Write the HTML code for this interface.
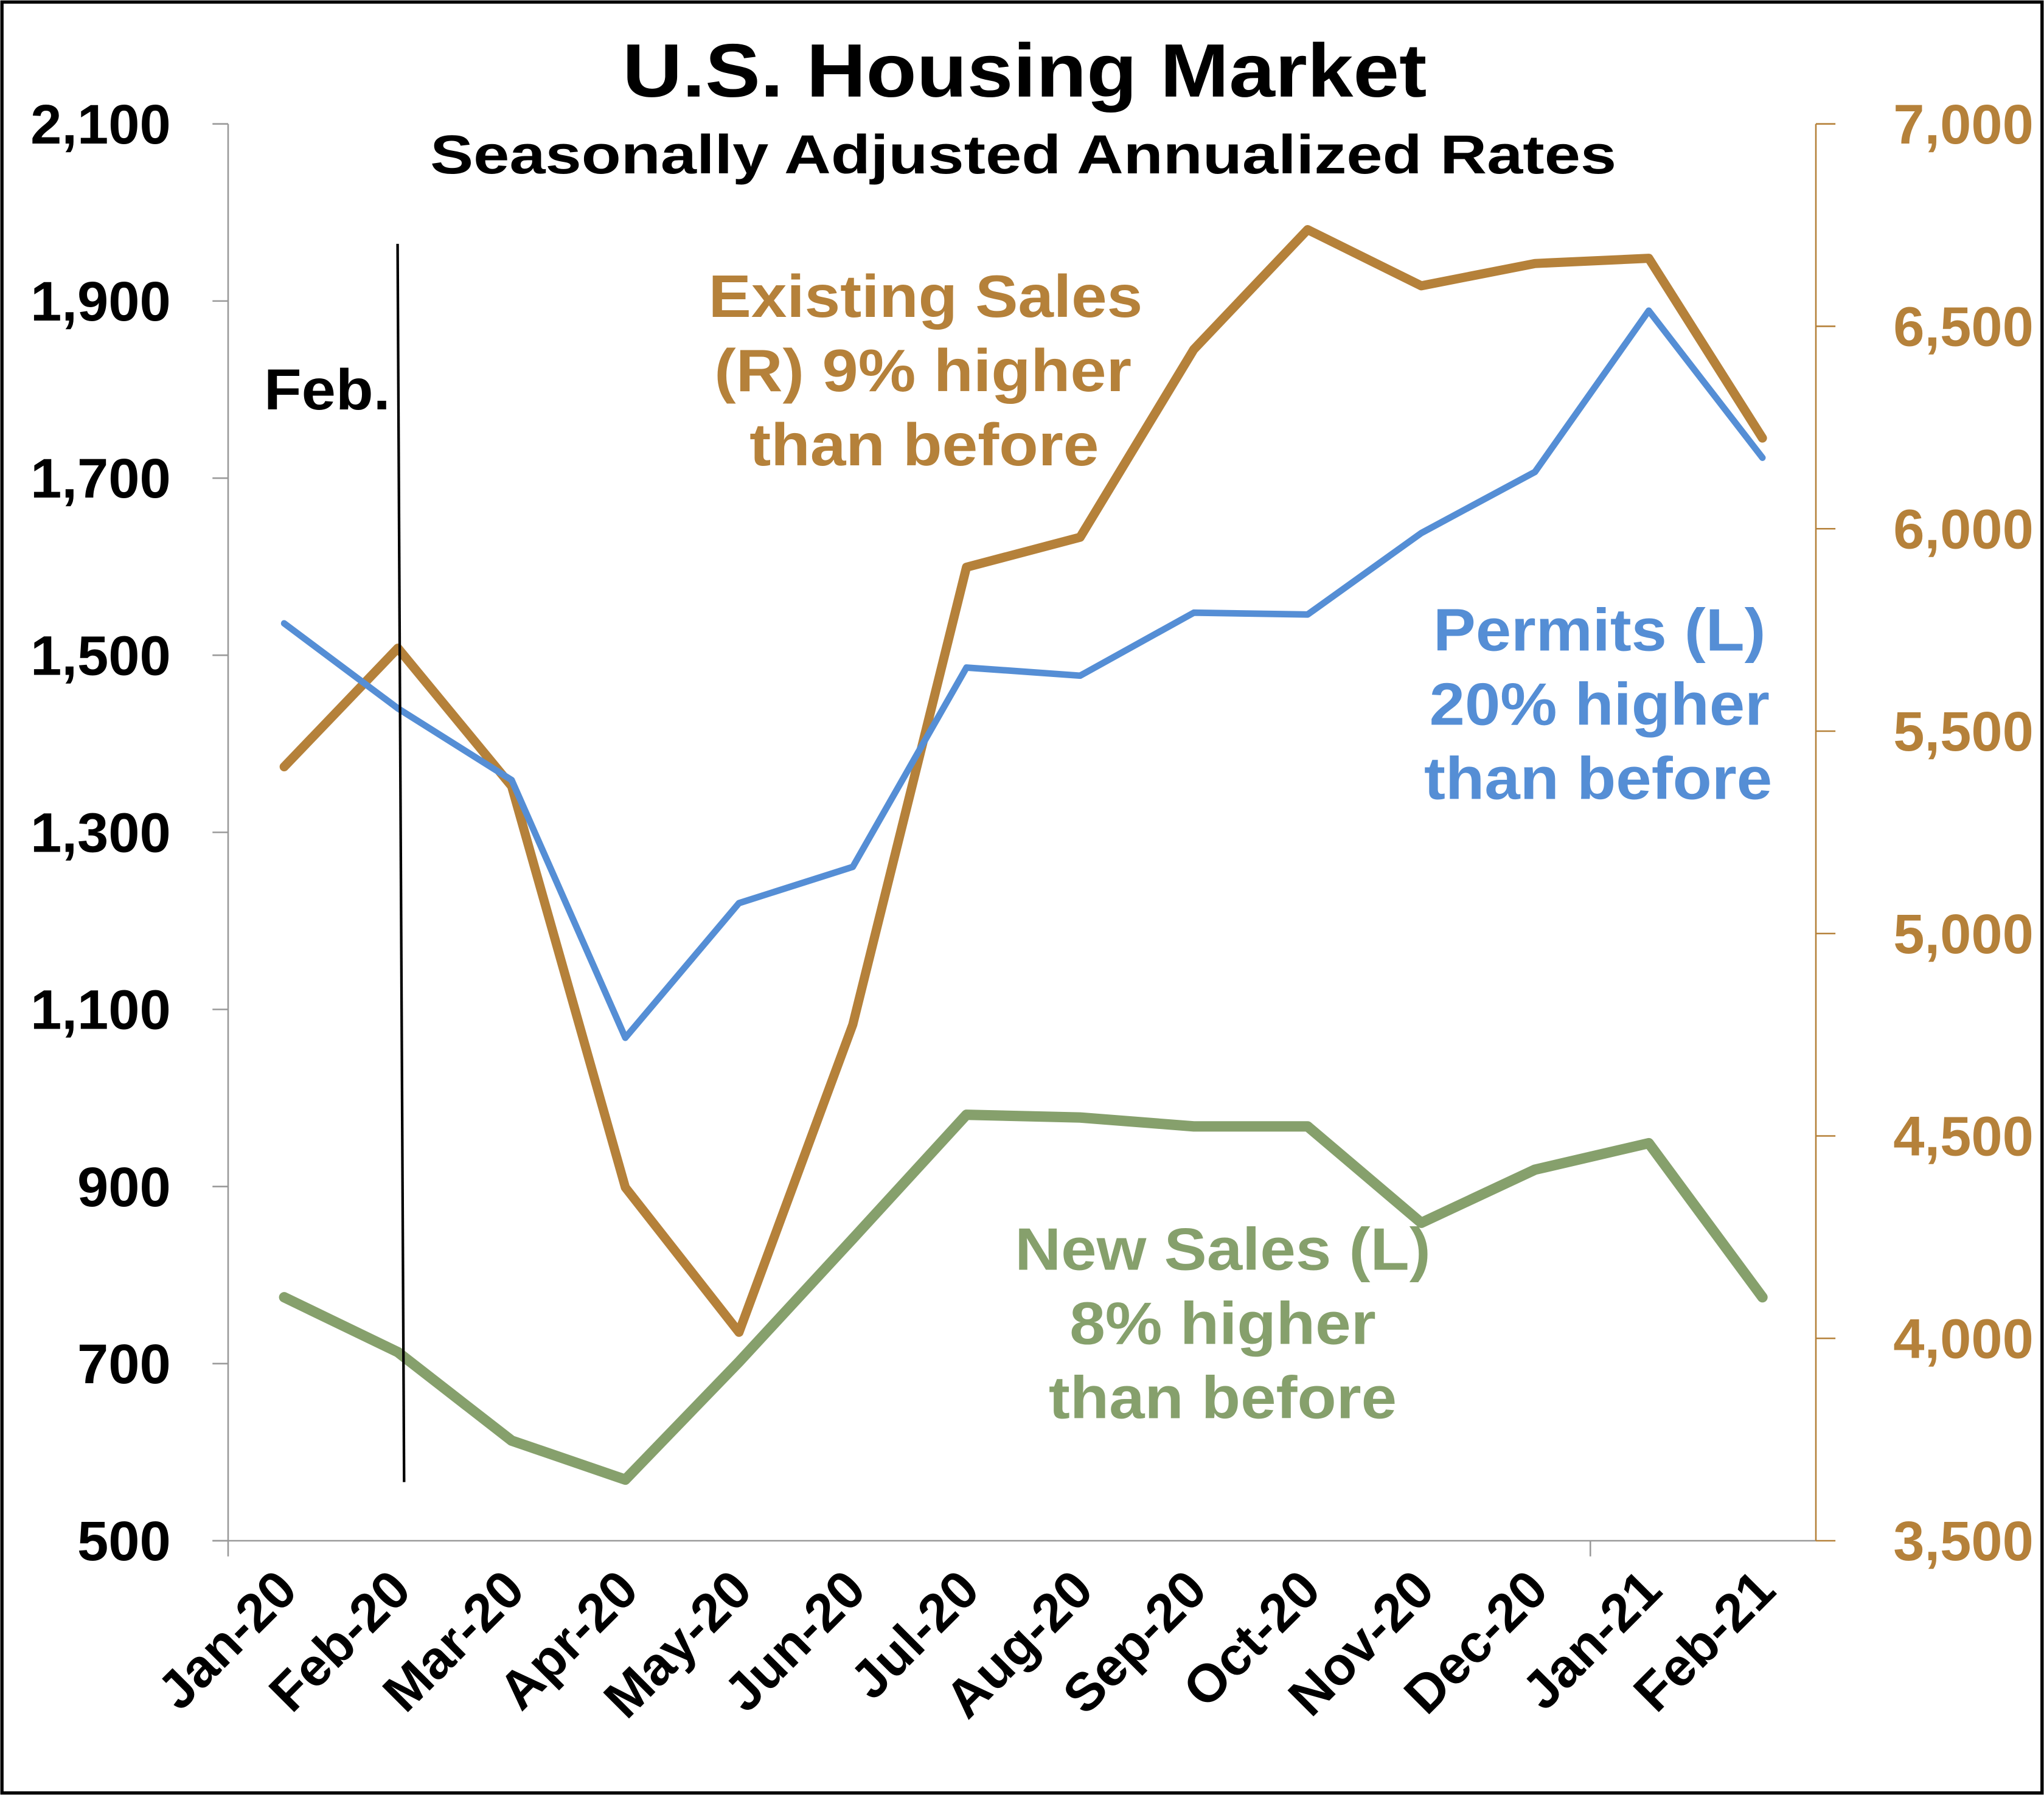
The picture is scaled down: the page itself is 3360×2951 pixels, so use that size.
<!DOCTYPE html>
<html><head><meta charset="utf-8"><style>
html,body{margin:0;padding:0;background:#fff}
svg{display:block}
text{font-family:"Liberation Sans",sans-serif;font-weight:bold}
</style></head><body>
<svg id="chart" width="3360" height="2951" viewBox="0 0 1568 1377" xmlns="http://www.w3.org/2000/svg">
<rect x="1.5" y="1.5" width="1565" height="1374" fill="#fff" stroke="#000" stroke-width="2.5"/>
<text x="786" y="74" font-size="58" text-anchor="middle" textLength="617" lengthAdjust="spacingAndGlyphs">U.S. Housing Market</text>
<text x="785" y="133" font-size="42" text-anchor="middle" textLength="910" lengthAdjust="spacingAndGlyphs">Seasonally Adjusted Annualized Rates</text>
<g id="axes"></g>
<g id="series"></g>
<line x1="305" y1="187" x2="310" y2="1137" stroke="#000" stroke-width="2"/>
<text x="251" y="314" font-size="44" text-anchor="middle" textLength="97" lengthAdjust="spacingAndGlyphs">Feb.</text>
<g font-size="46" fill="#B5813A" text-anchor="middle">
<text x="710" y="243" textLength="333" lengthAdjust="spacingAndGlyphs">Existing Sales</text><text x="708" y="300" textLength="320" lengthAdjust="spacingAndGlyphs">(R) 9% higher</text><text x="709" y="357" textLength="268" lengthAdjust="spacingAndGlyphs">than before</text></g>
<g font-size="46" fill="#558ED5" text-anchor="middle">
<text x="1227" y="499" textLength="255" lengthAdjust="spacingAndGlyphs">Permits (L)</text><text x="1227" y="556" textLength="261" lengthAdjust="spacingAndGlyphs">20% higher</text><text x="1226" y="613" textLength="267" lengthAdjust="spacingAndGlyphs">than before</text></g>
<g font-size="46" fill="#86A06C" text-anchor="middle">
<text x="938" y="974" textLength="319" lengthAdjust="spacingAndGlyphs">New Sales (L)</text><text x="938" y="1031" textLength="235" lengthAdjust="spacingAndGlyphs">8% higher</text><text x="938" y="1088" textLength="267" lengthAdjust="spacingAndGlyphs">than before</text></g>
</svg>
<script>
const categories=["Jan-20","Feb-20","Mar-20","Apr-20","May-20","Jun-20","Jul-20","Aug-20","Sep-20","Oct-20","Nov-20","Dec-20","Jan-21","Feb-21"];
const permits=[1536,1440,1359,1068,1220,1261,1486,1477,1548,1546,1638,1707,1889,1723];
const existingSales=[5412,5705,5364,4373,4015,4775,5905,5979,6443,6739,6600,6655,6668,6224];
const newSales=[775,713,613,569,702,841,981,978,968,968,859,919,949,775];
const leftTicks=[500,700,900,1100,1300,1500,1700,1900,2100];
const rightTicks=[3500,4000,4500,5000,5500,6000,6500,7000];
const NS="http://www.w3.org/2000/svg";
const plotTop=95,plotBot=1182,x0=218,x1=1352,axL=175,axR=1393;
const xs=i=>x0+i*(x1-x0)/(categories.length-1);
const yL=v=>plotBot-(v-500)/(2100-500)*(plotBot-plotTop);
const yR=v=>plotBot-(v-3500)/(7000-3500)*(plotBot-plotTop);
function mk(tag,attrs,parent){const e=document.createElementNS(NS,tag);for(const k in attrs)e.setAttribute(k,attrs[k]);parent.appendChild(e);return e;}
const ax=document.getElementById('axes');
let e;
e=mk('line',{x1:axL,y1:plotTop,x2:axL,y2:plotBot+12,stroke:'#999','stroke-width':1.2},ax);


e=mk('line',{x1:axL-12,y1:plotBot,x2:axR,y2:plotBot,stroke:'#999','stroke-width':1.2},ax);


e=mk('line',{x1:1220,y1:plotBot,x2:1220,y2:plotBot+12,stroke:'#999','stroke-width':1.2},ax);


e=mk('line',{x1:axR,y1:plotTop,x2:axR,y2:plotBot,stroke:'#B5813A','stroke-width':1.2},ax);


leftTicks.forEach(v=>{
  const y=yL(v);
  const t=mk('line',{x1:axL-12,y1:y,x2:axL,y2:y,stroke:'#999','stroke-width':1.2},ax);
  
  
  const l=mk('text',{x:131,y:y+15,'font-size':43,'text-anchor':'end'},ax);
  l.textContent=v.toLocaleString('en-US');
  
  
});
rightTicks.forEach(v=>{
  const y=yR(v);
  const t=mk('line',{x1:axR,y1:y,x2:axR+15,y2:y,stroke:'#B5813A','stroke-width':1.2},ax);
  
  
  const l=mk('text',{x:1560,y:y+15,'font-size':43,'text-anchor':'end',fill:'#B5813A'},ax);
  l.textContent=v.toLocaleString('en-US');
  
  
});
categories.forEach((c,i)=>{
  const x=xs(i)+12,y=plotBot+40;
  const l=mk('text',{x:x,y:y,'font-size':41,'text-anchor':'end',transform:`rotate(-45 ${x} ${y})`},ax);
  l.textContent=c;
  
  
});
const sg=document.getElementById('series');
function line(vals,yf,color,w,name){
  const pts=vals.map((v,i)=>xs(i).toFixed(1)+','+yf(v).toFixed(1)).join(' ');
  const p=mk('polyline',{points:pts,fill:'none',stroke:color,'stroke-width':w,'stroke-linejoin':'round','stroke-linecap':'round'},sg);
  
  
}
line(newSales,yL,'#86A06C',8,'new-sales-line');
line(existingSales,yR,'#B5813A',7,'existing-sales-line');
line(permits,yL,'#558ED5',5,'permits-line');
</script>
</body></html>
